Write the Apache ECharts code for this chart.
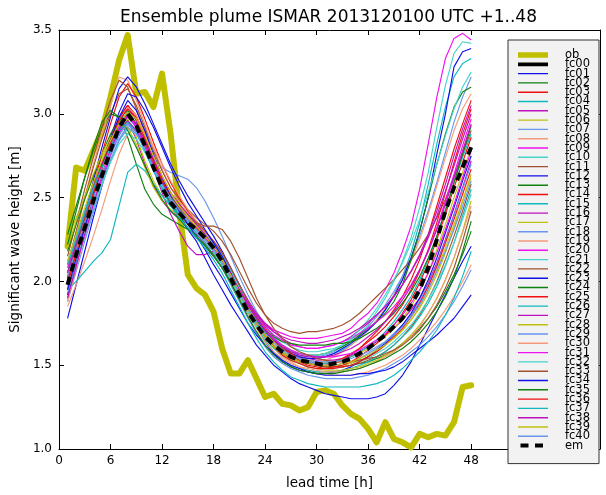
<!DOCTYPE html>
<html>
<head>
<meta charset="utf-8">
<script src="https://cdn.jsdelivr.net/npm/echarts@6/dist/echarts.min.js"></script>
<style>
html, body { margin: 0; padding: 0; background: #ffffff; }
#chart { width: 606px; height: 495px; }
</style>
</head>
<body>
<div id="chart"></div>
<script>
// Lead times (hours) shared by every series
const leadTime = [1,2,3,4,5,6,7,8,9,10,11,12,13,14,15,16,17,18,19,20,21,22,23,24,
  25,26,27,28,29,30,31,32,33,34,35,36,37,38,39,40,41,42,43,44,45,46,47,48];
const xTicks = [0, 6, 12, 18, 24, 30, 36, 42, 48];

// Observation
const ob = [2.21,2.68,2.66,2.78,2.90,3.10,3.32,3.47,3.12,3.13,3.04,3.24,
  2.88,2.42,2.04,1.96,1.92,1.82,1.60,1.45,1.45,1.53,1.42,1.31,
  1.33,1.27,1.26,1.23,1.25,1.34,1.35,1.33,1.26,1.21,1.18,1.12,
  1.04,1.16,1.06,1.04,1.01,1.09,1.07,1.09,1.08,1.16,1.37,1.38];

// Ensemble mean
const em = [1.98,2.16,2.32,2.48,2.63,2.78,2.92,3.00,2.93,2.81,2.68,2.56,
  2.47,2.41,2.35,2.31,2.26,2.20,2.12,2.02,1.92,1.82,1.74,1.67,
  1.62,1.58,1.55,1.53,1.52,1.51,1.50,1.51,1.52,1.54,1.57,1.60,
  1.64,1.68,1.73,1.78,1.86,1.95,2.08,2.25,2.42,2.56,2.68,2.80];

// Ensemble members (control run has no plotted values)
const fc00 = [];
const fc01 = [1.78,1.98,2.18,2.38,2.57,2.76,2.94,3.05,2.96,2.82,2.68,2.56,
  2.46,2.38,2.31,2.24,2.14,2.04,1.95,1.86,1.78,1.70,1.62,1.56,
  1.50,1.46,1.42,1.39,1.37,1.35,1.33,1.32,1.31,1.30,1.30,1.30,
  1.31,1.33,1.38,1.44,1.52,1.62,1.72,1.82,1.92,2.02,2.12,2.21];
const fc02 = [2.28,2.45,2.62,2.78,2.92,3.00,2.98,2.86,2.70,2.55,2.46,2.40,
  2.37,2.34,2.31,2.28,2.24,2.18,2.10,2.00,1.90,1.81,1.73,1.66,
  1.61,1.57,1.54,1.52,1.51,1.50,1.49,1.49,1.49,1.50,1.51,1.52,
  1.54,1.56,1.59,1.63,1.67,1.72,1.78,1.85,1.94,2.04,2.16,2.30];
const fc03 = [2.02,2.20,2.37,2.53,2.69,2.84,2.97,3.05,2.99,2.87,2.73,2.60,
  2.50,2.43,2.37,2.32,2.27,2.21,2.13,2.03,1.93,1.83,1.74,1.67,
  1.61,1.57,1.54,1.52,1.51,1.50,1.50,1.51,1.53,1.56,1.60,1.65,
  1.70,1.76,1.83,1.91,2.01,2.13,2.28,2.45,2.62,2.79,2.94,3.08];
const fc04 = [2.05,2.22,2.38,2.53,2.67,2.80,2.92,2.98,2.92,2.82,2.70,2.59,
  2.50,2.44,2.38,2.33,2.28,2.22,2.14,2.04,1.94,1.84,1.76,1.69,
  1.64,1.60,1.57,1.55,1.54,1.54,1.55,1.57,1.59,1.62,1.66,1.71,
  1.76,1.83,1.92,2.03,2.17,2.35,2.58,2.82,3.04,3.22,3.30,3.33];
const fc05 = [1.92,2.10,2.27,2.44,2.60,2.75,2.88,2.96,2.85,2.70,2.57,2.48,
  2.42,2.38,2.34,2.30,2.26,2.21,2.14,2.05,1.95,1.86,1.77,1.70,
  1.64,1.60,1.57,1.55,1.54,1.53,1.53,1.53,1.54,1.56,1.58,1.61,
  1.64,1.68,1.72,1.77,1.83,1.90,1.99,2.11,2.25,2.40,2.56,2.72];
const fc06 = [2.25,2.38,2.50,2.62,2.74,2.85,2.95,3.00,2.94,2.83,2.71,2.60,
  2.51,2.44,2.38,2.33,2.28,2.22,2.15,2.06,1.96,1.86,1.77,1.70,
  1.64,1.60,1.57,1.55,1.53,1.52,1.52,1.52,1.53,1.55,1.57,1.60,
  1.63,1.67,1.72,1.78,1.85,1.94,2.05,2.19,2.34,2.50,2.65,2.80];
const fc07 = [2.00,2.16,2.32,2.47,2.61,2.75,2.87,2.95,2.90,2.82,2.74,2.68,
  2.65,2.63,2.61,2.56,2.48,2.38,2.27,2.15,2.03,1.92,1.82,1.74,
  1.67,1.62,1.58,1.56,1.55,1.55,1.56,1.58,1.61,1.64,1.68,1.73,
  1.79,1.86,1.94,2.03,2.14,2.27,2.42,2.59,2.77,2.95,3.10,3.22];
const fc08 = [2.05,2.28,2.50,2.70,2.88,3.05,3.22,3.20,3.08,2.94,2.80,2.67,
  2.56,2.48,2.41,2.35,2.29,2.22,2.14,2.04,1.94,1.84,1.75,1.68,
  1.62,1.58,1.55,1.53,1.52,1.52,1.53,1.55,1.58,1.62,1.66,1.71,
  1.77,1.84,1.92,2.01,2.12,2.25,2.40,2.57,2.74,2.90,3.03,3.12];
const fc09 = [1.95,2.12,2.29,2.45,2.61,2.76,2.90,2.98,2.93,2.83,2.71,2.60,
  2.50,2.43,2.36,2.29,2.22,2.15,2.08,2.00,1.93,1.86,1.80,1.75,
  1.71,1.69,1.67,1.66,1.66,1.66,1.67,1.68,1.69,1.72,1.77,1.81,
  1.87,1.95,2.05,2.18,2.33,2.55,2.82,3.10,3.33,3.45,3.48,3.44];
const fc10 = [2.08,2.24,2.39,2.54,2.68,2.81,2.93,3.02,2.97,2.86,2.73,2.61,
  2.51,2.44,2.38,2.33,2.28,2.22,2.15,2.06,1.97,1.88,1.80,1.73,
  1.68,1.64,1.61,1.59,1.58,1.58,1.59,1.60,1.62,1.65,1.69,1.74,
  1.82,1.90,2.00,2.12,2.26,2.44,2.65,2.92,3.17,3.36,3.43,3.42];
const fc11 = [2.10,2.30,2.50,2.68,2.85,3.00,3.12,3.15,3.05,2.92,2.78,2.66,
  2.56,2.49,2.43,2.38,2.34,2.30,2.24,2.16,2.06,1.96,1.87,1.80,
  1.75,1.72,1.70,1.69,1.70,1.70,1.71,1.72,1.74,1.77,1.81,1.86,
  1.91,1.96,2.01,2.07,2.13,2.20,2.28,2.38,2.49,2.62,2.76,2.90];
const fc12 = [2.00,2.20,2.40,2.60,2.80,2.98,3.15,3.22,3.16,3.06,2.94,2.82,
  2.70,2.60,2.51,2.43,2.35,2.27,2.18,2.08,1.98,1.88,1.79,1.71,
  1.65,1.60,1.57,1.55,1.54,1.54,1.55,1.57,1.60,1.63,1.67,1.71,
  1.76,1.83,1.91,2.01,2.14,2.30,2.50,2.76,3.00,3.28,3.37,3.39];
const fc13 = [2.05,2.23,2.40,2.56,2.71,2.84,2.95,3.00,2.94,2.83,2.70,2.58,
  2.48,2.41,2.35,2.30,2.25,2.19,2.12,2.03,1.94,1.85,1.77,1.70,
  1.65,1.61,1.58,1.57,1.56,1.56,1.57,1.59,1.61,1.64,1.68,1.72,
  1.76,1.81,1.88,1.98,2.13,2.30,2.50,2.70,2.88,3.04,3.13,3.16];
const fc14 = [1.95,2.16,2.37,2.57,2.76,2.94,3.10,3.18,3.10,2.97,2.83,2.70,
  2.59,2.50,2.42,2.36,2.30,2.24,2.17,2.08,1.98,1.88,1.79,1.72,
  1.66,1.61,1.57,1.54,1.52,1.51,1.51,1.52,1.54,1.57,1.60,1.64,
  1.68,1.73,1.79,1.86,1.95,2.06,2.19,2.35,2.53,2.71,2.88,3.03];
const fc15 = [2.12,2.27,2.42,2.56,2.69,2.81,2.91,2.96,2.90,2.79,2.67,2.56,
  2.47,2.40,2.34,2.29,2.24,2.18,2.10,2.01,1.91,1.82,1.74,1.67,
  1.62,1.58,1.55,1.53,1.52,1.51,1.51,1.52,1.53,1.55,1.58,1.61,
  1.65,1.70,1.76,1.83,1.91,2.01,2.13,2.27,2.43,2.59,2.74,2.88];
const fc16 = [1.90,2.10,2.30,2.49,2.67,2.83,2.97,3.05,2.96,2.82,2.67,2.53,
  2.40,2.30,2.21,2.16,2.16,2.18,2.14,2.07,1.98,1.89,1.81,1.75,
  1.70,1.66,1.63,1.61,1.60,1.60,1.61,1.62,1.64,1.67,1.71,1.75,
  1.80,1.85,1.91,1.98,2.06,2.16,2.28,2.42,2.58,2.75,2.91,3.05];
const fc17 = [2.00,2.17,2.33,2.49,2.64,2.78,2.90,2.97,2.86,2.72,2.60,2.51,
  2.45,2.40,2.35,2.31,2.26,2.21,2.14,2.05,1.95,1.85,1.76,1.68,
  1.62,1.58,1.55,1.53,1.51,1.50,1.49,1.49,1.50,1.51,1.53,1.55,
  1.58,1.62,1.66,1.71,1.77,1.85,1.95,2.07,2.20,2.34,2.48,2.62];
const fc18 = [1.88,2.06,2.24,2.41,2.57,2.72,2.85,2.93,2.90,2.82,2.71,2.60,
  2.51,2.44,2.38,2.33,2.28,2.23,2.16,2.07,1.98,1.88,1.79,1.71,
  1.65,1.60,1.56,1.54,1.52,1.51,1.50,1.50,1.51,1.52,1.54,1.57,
  1.60,1.64,1.69,1.74,1.80,1.88,1.98,2.10,2.24,2.39,2.55,2.70];
const fc19 = [1.85,1.98,2.12,2.27,2.43,2.60,2.76,2.88,2.92,2.88,2.80,2.70,
  2.60,2.51,2.43,2.36,2.29,2.22,2.13,2.03,1.93,1.83,1.74,1.66,
  1.60,1.55,1.52,1.49,1.47,1.46,1.45,1.44,1.44,1.44,1.45,1.46,
  1.48,1.50,1.53,1.56,1.60,1.65,1.70,1.76,1.83,1.91,2.00,2.10];
const fc20 = [2.03,2.20,2.36,2.51,2.65,2.78,2.89,2.95,2.89,2.79,2.68,2.58,
  2.49,2.42,2.36,2.30,2.24,2.18,2.11,2.02,1.94,1.86,1.79,1.73,
  1.68,1.65,1.62,1.61,1.60,1.60,1.61,1.62,1.64,1.66,1.69,1.72,
  1.76,1.80,1.85,1.91,1.98,2.07,2.18,2.32,2.48,2.64,2.81,2.97];
const fc21 = [1.97,2.14,2.30,2.45,2.59,2.72,2.84,2.91,2.88,2.80,2.70,2.60,
  2.51,2.44,2.38,2.33,2.28,2.22,2.15,2.06,1.96,1.87,1.78,1.71,
  1.66,1.62,1.59,1.57,1.56,1.56,1.57,1.59,1.62,1.66,1.71,1.77,
  1.84,1.92,2.01,2.11,2.23,2.37,2.53,2.70,2.87,3.03,3.16,3.25];
const fc22 = [2.15,2.35,2.55,2.74,2.92,3.08,3.20,3.16,3.03,2.89,2.75,2.63,
  2.53,2.46,2.40,2.35,2.30,2.24,2.17,2.08,1.98,1.88,1.79,1.71,
  1.65,1.60,1.56,1.53,1.51,1.50,1.49,1.49,1.49,1.50,1.51,1.53,
  1.55,1.58,1.62,1.67,1.73,1.80,1.89,2.00,2.13,2.27,2.42,2.58];
const fc23 = [1.92,2.12,2.32,2.51,2.69,2.86,3.01,3.12,3.10,3.02,2.92,2.80,
  2.68,2.57,2.47,2.39,2.31,2.23,2.15,2.05,1.94,1.83,1.73,1.64,
  1.57,1.52,1.49,1.47,1.46,1.45,1.45,1.46,1.47,1.49,1.52,1.55,
  1.59,1.63,1.68,1.74,1.81,1.90,2.01,2.14,2.29,2.44,2.60,2.75];
const fc24 = [2.18,2.34,2.49,2.63,2.76,2.88,2.97,3.02,2.94,2.82,2.69,2.57,
  2.47,2.39,2.32,2.26,2.21,2.15,2.08,2.00,1.91,1.83,1.76,1.71,
  1.67,1.64,1.63,1.62,1.62,1.62,1.62,1.63,1.63,1.64,1.66,1.69,
  1.72,1.76,1.81,1.87,1.94,2.03,2.14,2.27,2.42,2.59,2.76,2.93];
const fc25 = [2.00,2.19,2.37,2.54,2.70,2.85,2.98,3.05,2.98,2.86,2.72,2.59,
  2.49,2.42,2.36,2.31,2.26,2.20,2.13,2.04,1.94,1.84,1.75,1.67,
  1.61,1.57,1.54,1.52,1.50,1.49,1.48,1.49,1.50,1.52,1.55,1.59,
  1.63,1.68,1.74,1.81,1.89,1.99,2.11,2.25,2.40,2.56,2.71,2.86];
const fc26 = [1.95,2.00,2.06,2.12,2.17,2.25,2.45,2.65,2.70,2.66,2.58,2.51,
  2.45,2.40,2.35,2.31,2.26,2.20,2.12,2.02,1.92,1.82,1.73,1.65,
  1.58,1.53,1.50,1.48,1.47,1.46,1.46,1.46,1.47,1.48,1.50,1.52,
  1.55,1.58,1.62,1.67,1.72,1.79,1.87,1.97,2.09,2.23,2.39,2.55];
const fc27 = [2.05,2.21,2.37,2.52,2.66,2.79,2.90,2.96,2.90,2.80,2.69,2.59,
  2.50,2.43,2.37,2.31,2.25,2.18,2.11,2.03,1.95,1.87,1.80,1.74,
  1.70,1.67,1.65,1.64,1.63,1.63,1.64,1.65,1.67,1.69,1.72,1.76,
  1.80,1.85,1.91,1.98,2.06,2.15,2.26,2.39,2.54,2.69,2.85,3.00];
const fc28 = [2.20,2.36,2.51,2.64,2.76,2.86,2.93,2.92,2.82,2.68,2.56,2.48,
  2.43,2.39,2.35,2.30,2.25,2.19,2.12,2.03,1.93,1.83,1.74,1.66,
  1.60,1.56,1.53,1.51,1.49,1.48,1.47,1.47,1.47,1.48,1.49,1.51,
  1.53,1.56,1.59,1.63,1.68,1.74,1.81,1.90,2.01,2.14,2.30,2.48];
const fc29 = [1.93,2.10,2.27,2.43,2.58,2.72,2.84,2.92,2.88,2.79,2.68,2.57,
  2.48,2.41,2.35,2.29,2.23,2.16,2.08,1.98,1.88,1.78,1.69,1.61,
  1.55,1.51,1.48,1.46,1.44,1.43,1.42,1.42,1.42,1.42,1.43,1.44,
  1.46,1.48,1.51,1.54,1.58,1.62,1.67,1.73,1.80,1.88,1.97,2.07];
const fc30 = [1.88,2.08,2.28,2.47,2.65,2.82,2.96,3.04,2.99,2.88,2.75,2.63,
  2.53,2.45,2.38,2.32,2.26,2.19,2.11,2.01,1.91,1.81,1.72,1.64,
  1.58,1.54,1.51,1.49,1.48,1.47,1.46,1.46,1.46,1.47,1.48,1.50,
  1.52,1.55,1.58,1.62,1.67,1.73,1.81,1.90,2.01,2.14,2.29,2.45];
const fc31 = [2.08,2.24,2.40,2.55,2.69,2.82,2.93,2.99,2.92,2.81,2.69,2.58,
  2.49,2.42,2.36,2.31,2.26,2.20,2.13,2.04,1.95,1.86,1.78,1.71,
  1.66,1.62,1.59,1.57,1.56,1.55,1.55,1.55,1.56,1.57,1.59,1.62,
  1.65,1.69,1.74,1.80,1.87,1.95,2.05,2.17,2.31,2.46,2.62,2.78];
const fc32 = [1.96,2.13,2.29,2.44,2.58,2.71,2.82,2.88,2.85,2.77,2.67,2.57,
  2.49,2.42,2.36,2.30,2.24,2.18,2.10,2.01,1.91,1.82,1.73,1.66,
  1.60,1.56,1.53,1.51,1.49,1.48,1.48,1.48,1.49,1.50,1.52,1.54,
  1.57,1.60,1.64,1.69,1.74,1.81,1.89,1.99,2.10,2.23,2.37,2.52];
const fc33 = [2.02,2.20,2.37,2.53,2.68,2.82,2.94,3.00,2.94,2.83,2.71,2.60,
  2.51,2.44,2.39,2.35,2.33,2.33,2.31,2.24,2.14,2.02,1.90,1.80,
  1.72,1.66,1.61,1.58,1.56,1.54,1.53,1.52,1.52,1.52,1.53,1.54,
  1.55,1.57,1.59,1.62,1.66,1.71,1.78,1.86,1.96,2.08,2.24,2.42];
const fc34 = [1.95,2.14,2.33,2.51,2.68,2.84,2.98,3.08,3.02,2.90,2.76,2.62,
  2.51,2.42,2.34,2.27,2.19,2.10,2.02,1.93,1.84,1.75,1.68,1.62,
  1.57,1.53,1.50,1.48,1.46,1.45,1.44,1.44,1.44,1.44,1.45,1.45,
  1.46,1.47,1.49,1.52,1.56,1.60,1.64,1.68,1.73,1.78,1.85,1.92];
const fc35 = [2.22,2.42,2.62,2.80,2.95,3.02,2.98,2.90,2.80,2.69,2.58,2.49,
  2.42,2.37,2.32,2.27,2.22,2.16,2.08,1.99,1.89,1.79,1.70,1.62,
  1.56,1.52,1.49,1.47,1.46,1.45,1.45,1.45,1.46,1.47,1.48,1.50,
  1.52,1.54,1.57,1.60,1.64,1.69,1.75,1.82,1.91,2.02,2.18,2.36];
const fc36 = [1.98,2.17,2.35,2.52,2.68,2.83,2.96,3.03,2.97,2.85,2.72,2.60,
  2.50,2.43,2.37,2.32,2.27,2.21,2.13,2.04,1.94,1.84,1.75,1.67,
  1.61,1.56,1.53,1.51,1.49,1.48,1.48,1.48,1.49,1.50,1.52,1.55,
  1.58,1.62,1.67,1.72,1.79,1.87,1.97,2.09,2.23,2.37,2.52,2.67];
const fc37 = [2.10,2.25,2.40,2.55,2.68,2.80,2.90,2.95,2.89,2.78,2.66,2.55,
  2.45,2.38,2.32,2.26,2.20,2.13,2.05,1.95,1.85,1.75,1.66,1.58,
  1.52,1.47,1.43,1.41,1.39,1.38,1.37,1.37,1.37,1.37,1.37,1.38,
  1.39,1.41,1.44,1.48,1.53,1.58,1.64,1.71,1.80,1.90,2.03,2.18];
const fc38 = [1.90,2.09,2.28,2.46,2.63,2.78,2.91,2.99,2.94,2.84,2.73,2.62,
  2.53,2.46,2.40,2.34,2.28,2.21,2.13,2.04,1.95,1.86,1.78,1.71,
  1.65,1.61,1.58,1.56,1.55,1.55,1.55,1.56,1.58,1.60,1.63,1.67,
  1.71,1.76,1.82,1.89,1.97,2.07,2.18,2.31,2.46,2.62,2.78,2.94];
const fc39 = [2.12,2.28,2.44,2.59,2.72,2.84,2.94,3.01,2.97,2.87,2.75,2.63,
  2.53,2.45,2.39,2.33,2.27,2.21,2.13,2.04,1.94,1.84,1.75,1.67,
  1.61,1.57,1.54,1.52,1.51,1.50,1.50,1.50,1.51,1.52,1.54,1.56,
  1.59,1.62,1.66,1.71,1.77,1.84,1.93,2.04,2.17,2.32,2.48,2.64];
const fc40 = [2.03,2.19,2.35,2.50,2.64,2.77,2.88,2.94,2.89,2.79,2.68,2.58,
  2.50,2.43,2.37,2.31,2.25,2.19,2.11,2.02,1.93,1.84,1.76,1.69,
  1.63,1.59,1.56,1.54,1.53,1.52,1.52,1.52,1.53,1.54,1.56,1.58,
  1.61,1.64,1.68,1.73,1.79,1.86,1.95,2.06,2.18,2.31,2.45,2.60];

const members = [fc00, fc01, fc02, fc03, fc04, fc05, fc06, fc07, fc08, fc09, fc10,
  fc11, fc12, fc13, fc14, fc15, fc16, fc17, fc18, fc19, fc20,
  fc21, fc22, fc23, fc24, fc25, fc26, fc27, fc28, fc29, fc30,
  fc31, fc32, fc33, fc34, fc35, fc36, fc37, fc38, fc39, fc40];

// Colour cycle used for fc01..fc40
const memberColors = ['#1010e8', '#108010', '#f01010', '#10b8c0', '#c010c0', '#c0c010',
  '#6a96ee', '#f59a78', '#f010f0', '#48d4cc', '#a0522d'];

const FONT = 'DejaVu Sans';

function toPairs(values) {
  return values.map((v, i) => [leadTime[i], v]);
}

// Legend handles: a thin sliver at x=0 fixes the icon box height
const thinIcon = 'path://M0,0h0.01v9h-0.01zM0,3.8h30v1.4h-30z';
const obIcon = 'path://M0,0h0.01v9h-0.01zM0,1.8h30v5.4h-30z';
const ctlIcon = 'path://M0,0h0.01v9h-0.01zM0,2.6h30v3.8h-30z';
const emIcon = 'path://M0,0h0.01v9h-0.01zM29.99,0h0.01v9h-0.01zM2.5,2.5h8v4h-8zM17,2.5h8v4h-8z';

const series = [];
const legendData = [];

series.push({
  name: 'ob', type: 'line', data: toPairs(ob), symbol: 'none', silent: true,
  lineStyle: { width: 6, color: '#bfbf00', join: 'round', cap: 'round' },
  itemStyle: { color: '#bfbf00' }, z: 2
});
legendData.push({ name: 'ob', icon: obIcon });

members.forEach((vals, i) => {
  const name = 'fc' + String(i).padStart(2, '0');
  const color = i === 0 ? '#000000' : memberColors[(i - 1) % memberColors.length];
  series.push({
    name, type: 'line', data: toPairs(vals), symbol: 'none', silent: true,
    lineStyle: { width: i === 0 ? 3.5 : 1.15, color },
    itemStyle: { color }, z: 3
  });
  legendData.push({ name, icon: i === 0 ? ctlIcon : thinIcon });
});

series.push({
  name: 'em', type: 'line', data: toPairs(em), symbol: 'none', silent: true,
  lineStyle: { width: 4, color: '#000000', type: [8, 6] },
  itemStyle: { color: '#000000' }, z: 4
});
legendData.push({ name: 'em', icon: emIcon });

const tickStyle = { inside: true, length: 5, lineStyle: { color: '#000', width: 1 } };
const lineStyle = { show: true, onZero: false, lineStyle: { color: '#000', width: 1 } };

const option = {
  animation: false,
  backgroundColor: '#ffffff',
  title: {
    text: 'Ensemble plume ISMAR 2013120100 UTC +1..48',
    left: 328.5, top: 9, textAlign: 'center', padding: 0,
    textStyle: { fontFamily: FONT, fontSize: 17, fontWeight: 'normal', color: '#000' }
  },
  grid: { left: 57, right: 6, top: 30, bottom: 42, containLabel: false },
  xAxis: [{
    type: 'value', min: 0, max: 63, position: 'bottom',
    axisLine: lineStyle,
    axisTick: Object.assign({ customValues: xTicks }, tickStyle),
    axisLabel: { customValues: xTicks, color: '#000', fontFamily: FONT, fontSize: 12, margin: 6 },
    splitLine: { show: false },
    name: 'lead time [h]', nameLocation: 'middle', nameGap: 27,
    nameTextStyle: { fontFamily: FONT, fontSize: 13.5, color: '#000' }
  }, {
    type: 'value', min: 0, max: 63, position: 'top',
    axisLine: lineStyle,
    axisTick: Object.assign({ customValues: xTicks }, tickStyle),
    axisLabel: { show: false },
    splitLine: { show: false }
  }],
  yAxis: [{
    type: 'value', min: 1, max: 3.5, interval: 0.5, position: 'left',
    axisLine: lineStyle,
    axisTick: tickStyle,
    axisLabel: { color: '#000', fontFamily: FONT, fontSize: 12, margin: 7,
      formatter: v => v.toFixed(1) },
    splitLine: { show: false },
    name: 'Significant wave height [m]', nameLocation: 'middle', nameGap: 25,
    nameRotate: 90,
    nameTextStyle: { fontFamily: FONT, fontSize: 13.5, color: '#000' }
  }, {
    type: 'value', min: 1, max: 3.5, interval: 0.5, position: 'right',
    axisLine: lineStyle,
    axisTick: tickStyle,
    axisLabel: { show: false },
    splitLine: { show: false }
  }],
  legend: {
    orient: 'vertical', left: 508, top: 40,
    padding: [9, 9, 12, 10],
    itemWidth: 30, itemHeight: 9, itemGap: -2.7,
    backgroundColor: '#f2f2f2', borderColor: '#333333', borderWidth: 1,
    selectedMode: false,
    itemStyle: { borderWidth: 0 },
    textStyle: { fontFamily: FONT, fontSize: 11.5, lineHeight: 9, color: '#000',
      padding: [0, 0, 0, 12] },
    data: legendData
  },
  series
};

const chart = echarts.init(document.getElementById('chart'), null, { renderer: 'canvas' });
chart.setOption(option);
</script>
</body>
</html>
